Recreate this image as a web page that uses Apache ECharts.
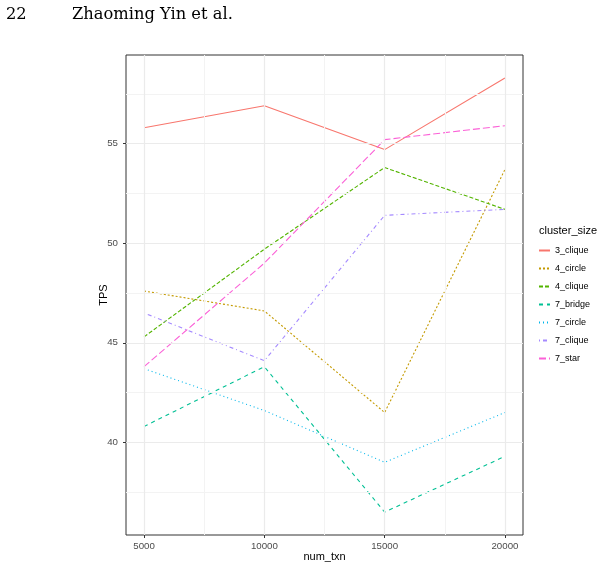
<!DOCTYPE html>
<html>
<head>
<meta charset="utf-8">
<script src="https://cdn.jsdelivr.net/npm/echarts@6/dist/echarts.min.js"></script>
<style>
  html, body { margin: 0; padding: 0; background: #fff; }
  #main { width: 607px; height: 569px; }
</style>
</head>
<body>
<div id="main"></div>
<script>
// values
var numTxn = [5000, 10000, 15000, 20000];
var clusterNames = ['3_clique', '4_circle', '4_clique', '7_bridge', '7_circle', '7_clique', '7_star'];
var tps_3_clique = [55.8, 56.9, 54.7, 58.3];
var tps_4_circle = [47.6, 46.6, 41.5, 53.7];
var tps_4_clique = [45.3, 49.7, 53.8, 51.7];
var tps_7_bridge = [40.8, 43.8, 36.5, 39.3];
var tps_7_circle = [43.7, 41.6, 39.0, 41.5];
var tps_7_clique = [46.5, 44.1, 51.4, 51.7];
var tps_7_star = [43.8, 49.0, 55.2, 55.9];

var xTicks = [5000, 10000, 15000, 20000];
var xMinor = [7500, 12500, 17500];
var yTicks = [40, 45, 50, 55];
var yMinor = [37.5, 42.5, 47.5, 52.5, 57.5];

var colors = ['#F8766D', '#C49A00', '#53B400', '#00C094', '#00B6EB', '#A58AFF', '#FB61D7'];
var dashes = ['solid', [2, 2], [4, 2], [4, 4], [1, 3], [1, 3, 4, 3], [7, 3]];
var allValues = [tps_3_clique, tps_4_circle, tps_4_clique, tps_7_bridge, tps_7_circle, tps_7_clique, tps_7_star];

var myChart = echarts.init(document.getElementById('main'));

var series = [];
// grid lines (ggplot style) drawn as mark lines under everything
var gridLines = [];
xMinor.forEach(function(v){ gridLines.push({xAxis: v, lineStyle: {color: '#F3F3F3', width: 1, type: 'solid'}}); });
yMinor.forEach(function(v){ gridLines.push({yAxis: v, lineStyle: {color: '#F3F3F3', width: 1, type: 'solid'}}); });
xTicks.forEach(function(v){ gridLines.push({xAxis: v, lineStyle: {color: '#EBEBEB', width: 1.2, type: 'solid'}}); });
yTicks.forEach(function(v){ gridLines.push({yAxis: v, lineStyle: {color: '#EBEBEB', width: 1.2, type: 'solid'}}); });
series.push({
    name: 'grid',
    type: 'line',
    data: [[numTxn[0], tps_3_clique[0]]],
    symbol: 'none',
    lineStyle: {opacity: 0},
    silent: true,
    z: 1,
    markLine: {
        silent: true,
        symbol: ['none', 'none'],
        label: {show: false},
        animation: false,
        lineStyle: {type: 'solid'},
        data: gridLines
    }
});
for (var i = 0; i < clusterNames.length; i++) {
    var pts = [];
    for (var j = 0; j < numTxn.length; j++) {
        pts.push([numTxn[j], allValues[i][j]]);
    }
    series.push({
        name: clusterNames[i],
        type: 'line',
        data: pts,
        symbol: 'none',
        z: 3,
        itemStyle: {color: colors[i]},
        lineStyle: {color: colors[i], width: 1.1, type: dashes[i]}
    });
}

var option = {
    animation: false,
    backgroundColor: '#fff',
    textStyle: {fontFamily: 'Liberation Sans, Arial, sans-serif'},
    grid: {
        left: 126, right: 84, top: 55, bottom: 34,
        outerBoundsMode: 'none',
        show: true, borderColor: '#333333', borderWidth: 1, backgroundColor: 'transparent'
    },
    xAxis: {
        type: 'value',
        min: 4250,
        max: 20750,
        name: 'num_txn',
        nameLocation: 'middle',
        nameGap: 16,
        nameMoveOverlap: false,
        nameTextStyle: {color: '#000', fontSize: 11, verticalAlign: 'top'},
        axisLine: {show: false},
        splitLine: {show: false},
        axisTick: {show: true, length: 3, customValues: xTicks, lineStyle: {color: '#333'}},
        axisLabel: {customValues: xTicks, color: '#4D4D4D', fontSize: 9.7, margin: 6,
            formatter: function(v){ return String(v); }}
    },
    yAxis: {
        type: 'value',
        min: 35.35,
        max: 59.45,
        name: 'TPS',
        nameLocation: 'middle',
        nameGap: 17,
        nameMoveOverlap: false,
        nameRotate: 90,
        nameTextStyle: {color: '#000', fontSize: 11},
        axisLine: {show: false},
        splitLine: {show: false},
        axisTick: {show: true, length: 3, customValues: yTicks, lineStyle: {color: '#333'}},
        axisLabel: {customValues: yTicks, color: '#4D4D4D', fontSize: 9.7, margin: 8}
    },
    legend: {
        data: clusterNames,
        orient: 'vertical',
        left: 533,
        top: 241,
        itemWidth: 11,
        itemHeight: 8,
        itemGap: 9,
        itemStyle: {opacity: 0},
        textStyle: {fontSize: 9, color: '#000'},
        selectedMode: false
    },
    graphic: [
        {type: 'text', left: 539, top: 225, style: {text: 'cluster_size', fontSize: 11, fill: '#000', fontFamily: 'Liberation Sans, Arial, sans-serif'}},
        {type: 'text', left: 6, top: 7, style: {text: '22', fontSize: 16.3, fill: '#000', fontFamily: 'DejaVu Serif, serif'}},
        {type: 'text', left: 72, top: 7, style: {text: 'Zhaoming Yin et al.', fontSize: 16.3, fill: '#000', fontFamily: 'DejaVu Serif, serif'}}
    ],
    series: series
};

myChart.setOption(option);
</script>
</body>
</html>
